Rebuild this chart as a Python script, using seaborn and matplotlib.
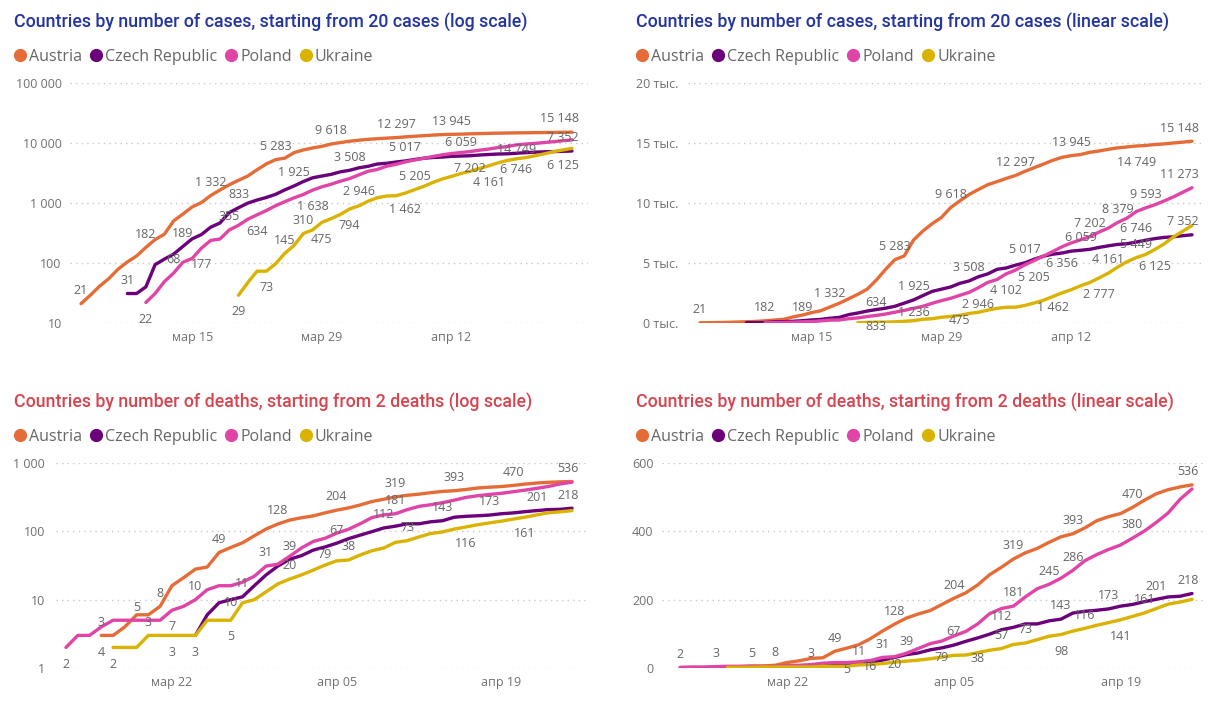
import matplotlib
matplotlib.use("Agg")
import matplotlib.pyplot as plt
from matplotlib.lines import Line2D
import pandas as pd
import seaborn as sns

# ---------------- data ----------------
countries = ["Austria", "Czech Republic", "Poland", "Ukraine"]
colors = ["#E66C37", "#6B007B", "#E044A7", "#D9B300"]

cases_start = ["2020-03-03", "2020-03-08", "2020-03-10", "2020-03-20"]
cases_austria = [21, 29, 41, 55, 79, 104, 131, 182, 246, 302, 504, 655, 860, 1018, 1332,
                 1646, 2013, 2388, 2814, 3582, 4474, 5283, 5588, 6909, 7657, 8271, 8788,
                 9618, 10180, 10711, 11129, 11524, 11781, 12051, 12297, 12639, 12942,
                 13244, 13555, 13806, 13945, 14041, 14226, 14336, 14476, 14595, 14671,
                 14749, 14795, 14873, 14925, 15002, 15071, 15148]
cases_czech = [31, 31, 40, 94, 116, 141, 189, 253, 298, 396, 464, 694, 833, 995, 1120,
               1236, 1394, 1654, 1925, 2279, 2631, 2817, 3001, 3308, 3508, 3858, 4091,
               4472, 4587, 4822, 5017, 5312, 5569, 5732, 5831, 5991, 6059, 6141, 6301,
               6433, 6549, 6606, 6746, 6900, 7033, 7132, 7187, 7273, 7352]
cases_poland = [22, 31, 49, 68, 103, 119, 177, 238, 251, 355, 425, 536, 634, 749, 901,
                1051, 1221, 1389, 1638, 1862, 2055, 2311, 2554, 2946, 3383, 3627, 4102,
                4413, 4848, 5205, 5575, 5955, 6356, 6674, 6934, 7202, 7582, 7918, 8379,
                8742, 9287, 9593, 9856, 10169, 10511, 10892, 11273]
cases_ukraine = [29, 47, 73, 73, 97, 145, 196, 310, 356, 475, 548, 645, 794, 897, 1072,
                 1225, 1308, 1319, 1462, 1668, 1892, 2203, 2511, 2777, 3102, 3372, 3764,
                 4161, 4662, 5106, 5449, 5710, 6125, 6592, 7170, 7647, 8125]

deaths_start = ["2020-03-16", "2020-03-24", "2020-03-13", "2020-03-17"]
deaths_austria = [3, 3, 4, 6, 6, 8, 16, 21, 28, 30, 49, 58, 68, 86, 108, 128, 146, 158,
                  168, 186, 204, 220, 243, 273, 295, 319, 337, 350, 368, 384, 393, 410,
                  431, 443, 452, 470, 491, 510, 522, 530, 536]
deaths_czech = [3, 6, 9, 10, 11, 16, 23, 31, 39, 44, 53, 59, 67, 78, 88, 99, 112, 119,
                129, 129, 138, 143, 161, 166, 169, 173, 181, 186, 194, 201, 208, 210, 218]
deaths_poland = [2, 3, 3, 4, 5, 5, 5, 5, 5, 7, 8, 10, 14, 16, 16, 18, 22, 31, 33, 43, 57,
                 71, 79, 94, 107, 129, 159, 174, 181, 208, 232, 245, 263, 286, 314, 332,
                 347, 360, 380, 401, 426, 454, 494, 524]
deaths_ukraine = [2, 2, 2, 3, 3, 3, 3, 3, 5, 5, 5, 9, 10, 13, 17, 20, 23, 27, 32, 37, 38,
                  45, 52, 57, 69, 73, 83, 93, 98, 108, 116, 125, 133, 141, 151, 161, 174,
                  187, 193, 201]

titles = ["Countries by number of cases, starting from 20 cases (log scale)",
          "Countries by number of cases, starting from 20 cases (linear scale)",
          "Countries by number of deaths, starting from 2 deaths (log scale)",
          "Countries by number of deaths, starting from 2 deaths (linear scale)"]

cases_xticks = ["2020-03-15", "2020-03-29", "2020-04-12"]
cases_xticklabels = ["мар 15", "мар 29", "апр 12"]
deaths_xticks = ["2020-03-22", "2020-04-05", "2020-04-19"]
deaths_xticklabels = ["мар 22", "апр 05", "апр 19"]

cases_log_yticks = [10, 100, 1000, 10000, 100000]
cases_log_yticklabels = ["10", "100", "1 000", "10 000", "100 000"]
cases_lin_yticks = [0, 5000, 10000, 15000, 20000]
cases_lin_yticklabels = ["0 тыс.", "5 тыс.", "10 тыс.", "15 тыс.", "20 тыс."]
deaths_log_yticks = [1, 10, 100, 1000]
deaths_log_yticklabels = ["1", "10", "100", "1 000"]
deaths_lin_yticks = [0, 200, 400, 600]
deaths_lin_yticklabels = ["0", "200", "400", "600"]

# data labels: (country, date, text, placement)
A, C, P, U = countries
labels_cases_log = [
    (A, "03-03", "21", "a"), (A, "03-10", "182", "a"), (A, "03-17", "1 332", "a"),
    (A, "03-24", "5 283", "a"), (A, "03-30", "9 618", "a"), (A, "04-06", "12 297", "a"),
    (A, "04-12", "13 945", "a"), (A, "04-19", "14 749", "b"), (A, "04-25", "15 148", "a"),
    (C, "03-08", "31", "a"), (C, "03-14", "189", "a"), (C, "03-20", "833", "a"),
    (C, "03-26", "1 925", "a"), (C, "04-01", "3 508", "a"), (C, "04-07", "5 017", "a"),
    (C, "04-13", "6 059", "a"), (C, "04-19", "6 746", "b"), (C, "04-25", "7 352", "a"),
    (P, "03-10", "22", "b"), (P, "03-13", "68", "a"), (P, "03-16", "177", "b"),
    (P, "03-19", "355", "a"), (P, "03-22", "634", "b"), (P, "03-28", "1 638", "b"),
    (P, "04-02", "2 946", "b"), (P, "04-08", "5 205", "b"), (P, "04-14", "7 202", "b"),
    (U, "03-20", "29", "b"), (U, "03-23", "73", "b"), (U, "03-25", "145", "a"),
    (U, "03-27", "310", "a"), (U, "03-29", "475", "b"), (U, "04-01", "794", "b"),
    (U, "04-07", "1 462", "b"), (U, "04-16", "4 161", "b"), (U, "04-25", "6 125", "b"),
]
labels_cases_lin = [
    (A, "03-03", "21", "a"), (A, "03-10", "182", "a"), (A, "03-17", "1 332", "a"),
    (A, "03-24", "5 283", "a"), (A, "03-30", "9 618", "a"), (A, "04-06", "12 297", "a"),
    (A, "04-12", "13 945", "a"), (A, "04-19", "14 749", "b"), (A, "04-25", "15 148", "a"),
    (C, "03-14", "189", "a"), (C, "03-22", "833", "b"), (C, "03-26", "1 925", "a"),
    (C, "04-01", "3 508", "a"), (C, "04-07", "5 017", "a"), (C, "04-13", "6 059", "a"),
    (C, "04-19", "6 746", "a"), (C, "04-25", "7 352", "a"),
    (P, "03-22", "634", "a"), (P, "03-26", "1 236", -3), (P, "04-02", "2 946", "b"),
    (P, "04-05", "4 102", "b"), (P, "04-08", "5 205", "b"), (P, "04-11", "6 356", "b"),
    (P, "04-14", "7 202", "a"), (P, "04-17", "8 379", "a"), (P, "04-20", "9 593", "a"),
    (P, "04-25", "11 273", "a"),
    (U, "03-31", "475", -4), (U, "04-10", "1 462", -8), (U, "04-15", "2 777", "b"),
    (U, "04-16", "4 161", "a"), (U, "04-19", "5 449", "a"), (U, "04-21", "6 125", "b"),
]
labels_deaths_log = [
    (A, "03-16", "3", "a"), (A, "03-16", "4", "b"), (A, "03-21", "8", "a"),
    (A, "03-26", "49", "a"), (A, "03-31", "128", "a"), (A, "04-05", "204", "a"),
    (A, "04-10", "319", "a"), (A, "04-15", "393", "a"), (A, "04-20", "470", "a"),
    (A, "04-25", "536", "a"),
    (P, "03-13", "2", "b"), (P, "03-19", "5", "a"), (P, "03-22", "7", "b"),
    (P, "03-24", "10", "a"), (P, "03-30", "31", "a"), (P, "04-04", "79", "b"),
    (P, "04-10", "181", "a"),
    (C, "03-24", "3", "b"), (C, "03-27", "10", -2), (C, "03-28", "11", "a"),
    (C, "04-01", "39", "a"), (C, "04-05", "67", "a"), (C, "04-09", "112", "a"),
    (C, "04-14", "143", "a"), (C, "04-18", "173", "a"), (C, "04-22", "201", "a"),
    (C, "04-25", "218", "a"),
    (U, "03-17", "2", "b"), (U, "03-20", "3", "a"), (U, "03-22", "3", "b"),
    (U, "03-27", "5", "b"), (U, "04-01", "20", "a"), (U, "04-06", "38", "a"),
    (U, "04-11", "73", "a"), (U, "04-16", "116", "b"), (U, "04-21", "161", "b"),
]
labels_deaths_lin = [
    (P, "03-13", "2", "a"), (A, "03-16", "3", "a"), (P, "03-19", "5", "a"),
    (A, "03-21", "8", "a"), (C, "03-24", "3", "a"), (A, "03-26", "49", "a"),
    (U, "03-27", "5", -2), (C, "03-28", "11", "a"), (C, "03-29", "16", -3),
    (P, "03-30", "31", "a"), (U, "03-31", "20", -2), (C, "04-01", "39", "a"),
    (A, "03-31", "128", "a"), (P, "04-04", "79", "b"), (C, "04-05", "67", "a"),
    (A, "04-05", "204", "a"), (U, "04-07", "38", -4), (U, "04-09", "57", "a"),
    (C, "04-09", "112", "a"), (P, "04-10", "181", "a"), (A, "04-10", "319", "a"),
    (U, "04-11", "73", "a"), (P, "04-13", "245", "a"), (C, "04-14", "143", "a"),
    (U, "04-14", "98", "b"), (P, "04-15", "286", "a"), (A, "04-15", "393", "a"),
    (U, "04-16", "116", "a"), (C, "04-18", "173", "a"), (U, "04-19", "141", "b"),
    (P, "04-20", "380", "a"), (A, "04-20", "470", "a"), (U, "04-21", "161", "a"),
    (C, "04-22", "201", "a"), (C, "04-25", "218", "a"), (A, "04-25", "536", "a"),
]


def long_frame(starts, series):
    rows = []
    for name, start, vals in zip(countries, starts, series):
        dates = pd.date_range(start, periods=len(vals), freq="D")
        rows.append(pd.DataFrame({"date": dates, "value": vals, "country": name}))
    return pd.concat(rows, ignore_index=True)


cases_df = long_frame(cases_start, [cases_austria, cases_czech, cases_poland, cases_ukraine])
deaths_df = long_frame(deaths_start, [deaths_austria, deaths_czech, deaths_poland, deaths_ukraine])

# ---------------- style ----------------
sns.set_theme(style="white")
plt.rcParams["font.family"] = ["Open Sans", "DejaVu Sans"]

W, H = 1215, 706
fig = plt.figure(figsize=(W / 100, H / 100), dpi=100)
fig.patch.set_facecolor("white")

LABEL_COLOR = "#666666"
TICK_COLOR = "#707070"
GRID_COLOR = "#c8c8c8"
TITLE_COLORS = ["#2434A0", "#2434A0", "#D64550", "#D64550"]


def px_axes(l, t, r, b):
    return fig.add_axes([l / W, 1 - b / H, (r - l) / W, (b - t) / H])


def draw(ax, df, log, yticks, yticklabels, xticks, xticklabels, labels, pad_days, ypad):
    sns.lineplot(data=df, x="date", y="value", hue="country", hue_order=countries,
                 palette=colors, ax=ax, legend=False, linewidth=2.4,
                 solid_capstyle="round", solid_joinstyle="round")
    if log:
        ax.set_yscale("log")
        ax.minorticks_off()
    ax.set_ylim(yticks[0], yticks[-1])
    first = df["date"].min()
    last = df["date"].max()
    ax.set_xlim(first - pd.Timedelta(days=pad_days[0]), last + pd.Timedelta(days=pad_days[1]))
    ax.set_yticks(yticks)
    ax.set_yticklabels(yticklabels)
    ax.set_xticks(pd.to_datetime(xticks))
    ax.set_xticklabels(xticklabels)
    ax.set_xlabel("")
    ax.set_ylabel("")
    for s in ax.spines.values():
        s.set_visible(False)
    ax.tick_params(axis="both", length=0, labelsize=9, colors=TICK_COLOR)
    ax.tick_params(axis="y", pad=ypad)
    ax.tick_params(axis="x", pad=6)
    ax.yaxis.grid(True, color=GRID_COLOR, linestyle=(0, (1, 3)), linewidth=1.0)
    ax.xaxis.grid(False)
    ax.set_axisbelow(True)
    ax.set_facecolor("white")
    # data labels
    for country, md, text, place in labels:
        d = pd.Timestamp("2020-" + md)
        sub = df[(df["country"] == country) & (df["date"] == d)]
        v = float(sub["value"].iloc[0])
        if place == "a":
            dy = 9.5
        elif place == "b":
            dy = -12
        else:
            dy = place
        dx = 0
        ha = "center"
        if d == last:
            ha = "right"
            dx = 5
        ax.annotate(text, (d, v), xytext=(dx, dy), textcoords="offset points",
                    ha=ha, va="center", fontsize=9, color=LABEL_COLOR)


def add_header(x, y_title, y_legend, title, tcolor):
    fig.text(x / W, 1 - y_title / H, title, color=tcolor, fontsize=12.8,
             fontfamily=["Roboto", "DejaVu Sans"], fontweight="medium", va="center", ha="left")
    handles = [Line2D([], [], marker="o", linestyle="", color=c, markersize=8.5) for c in colors]
    fig.legend(handles, countries, loc="center left",
               bbox_to_anchor=((x - 2) / W, 1 - y_legend / H), bbox_transform=fig.transFigure,
               ncol=4, frameon=False, handletextpad=0.05, columnspacing=0.4,
               handlelength=1.0, borderpad=0, borderaxespad=0,
               prop={"family": ["Open Sans", "DejaVu Sans"], "size": 11.5},
               labelcolor="#666666")


ax1 = px_axes(70, 83, 588, 323)
draw(ax1, cases_df, True, cases_log_yticks, cases_log_yticklabels, cases_xticks,
     cases_xticklabels, labels_cases_log, (1.19, 1.73), 6)
ax2 = px_axes(688, 83, 1205, 323)
draw(ax2, cases_df, False, cases_lin_yticks, cases_lin_yticklabels, cases_xticks,
     cases_xticklabels, labels_cases_lin, (1.29, 1.40), 7)
ax3 = px_axes(56, 463, 588, 668)
draw(ax3, deaths_df, True, deaths_log_yticks, deaths_log_yticklabels, deaths_xticks,
     deaths_xticklabels, labels_deaths_log, (0.85, 1.36), 8)
ax4 = px_axes(662, 463, 1205, 668)
draw(ax4, deaths_df, False, deaths_lin_yticks, deaths_lin_yticklabels, deaths_xticks,
     deaths_xticklabels, labels_deaths_lin, (1.51, 1.09), 6)

add_header(14, 22, 57, titles[0], TITLE_COLORS[0])
add_header(636, 22, 57, titles[1], TITLE_COLORS[1])
add_header(14, 403, 437, titles[2], TITLE_COLORS[2])
add_header(636, 403, 437, titles[3], TITLE_COLORS[3])

fig.savefig("out.png", dpi=100, facecolor="white")
